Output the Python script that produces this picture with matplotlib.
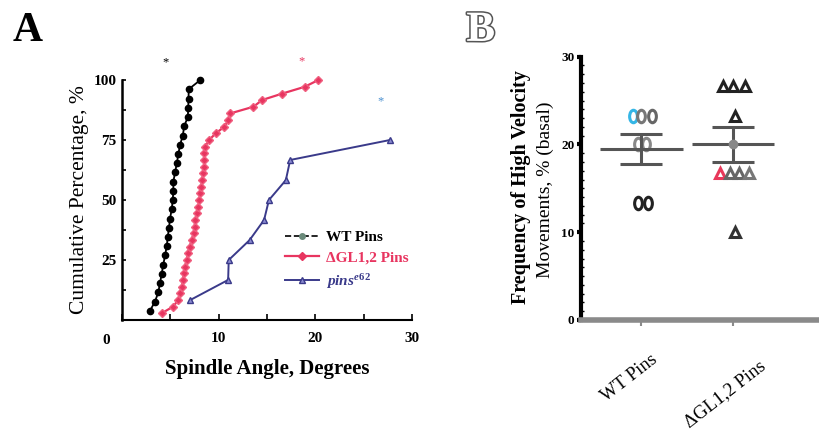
import matplotlib.pyplot as plt
import matplotlib.patheffects as pe
import matplotlib.transforms as mtransforms
from matplotlib.lines import Line2D
from matplotlib.path import Path
from matplotlib.ticker import MultipleLocator
import numpy as np

plt.rcParams['font.family'] = ['Liberation Serif', 'DejaVu Serif']
plt.rcParams['mathtext.fontset'] = 'custom'
plt.rcParams['mathtext.it'] = 'Liberation Serif:italic:bold'
plt.rcParams['mathtext.rm'] = 'Liberation Serif:bold'

# panel A: cumulative distribution of spindle angles
wt_angle = [2.89, 3.41, 3.75, 3.93, 4.1, 4.27, 4.45, 4.63, 4.73, 4.86, 4.97, 5.14, 5.25,
            5.31, 5.31, 5.49, 5.67, 5.83, 6.01, 6.29, 6.43, 6.81, 6.85, 6.88, 6.9, 8.09]
wt_cum = [3.8, 7.7, 11.5, 15.4, 19.2, 23.1, 26.9, 30.8, 34.6, 38.5, 42.3, 46.2, 50.0,
          53.8, 57.7, 61.5, 65.4, 69.2, 73.1, 76.9, 80.8, 84.6, 88.5, 92.3, 96.2, 100.0]

gl_angle = [4.1, 5.3, 5.8, 6.0, 6.2, 6.3, 6.4, 6.5, 6.7, 6.8, 7.0, 7.2, 7.4, 7.5, 7.6, 7.8,
            7.9, 8.0, 8.1, 8.2, 8.3, 8.4, 8.5, 8.5, 8.5, 8.6, 9.0, 9.7, 10.6, 11.0, 11.2,
            13.6, 14.5, 16.6, 18.9, 20.3]
gl_cum = [2.8, 5.6, 8.3, 11.1, 13.9, 16.7, 19.4, 22.2, 25.0, 27.8, 30.6, 33.3, 36.1, 38.9,
          41.7, 44.4, 47.2, 50.0, 52.8, 55.6, 58.3, 61.1, 63.9, 66.7, 69.4, 72.2, 75.0,
          77.8, 80.6, 83.3, 86.1, 88.9, 91.7, 94.4, 97.2, 100.0]

pins_angle = [7.05, 10.98, 11.04, 13.2, 14.7, 15.2, 16.95, 17.4, 27.7]
pins_cum = [8.3, 16.7, 25.0, 33.3, 41.7, 50.0, 58.3, 66.7, 75.0]

star_x = [4.45, 18.6, 26.7]
star_y = [107.6, 108.0, 91.0]

# panel B: frequency of high velocity movements
groups = ['WT Pins', '\u0394GL1,2 Pins']
wt_freq = [23.3, 23.3, 23.3, 20.0, 20.0, 13.3, 13.3]
wt_jit = [-0.09, 0.0, 0.11, -0.04, 0.05, -0.04, 0.07]
wt_col = ['#35b6e6', '#777777', '#666666', '#888888', '#888888', '#222222', '#222222']
gl_freq = [26.7, 26.7, 26.7, 23.3, 16.7, 16.7, 16.7, 16.7, 10.0]
gl_jit = [-0.11, 0.0, 0.13, 0.02, -0.14, -0.03, 0.07, 0.18, 0.02]
gl_col = ['#222222', '#222222', '#222222', '#222222', '#e8385a', '#666666', '#666666',
          '#777777', '#333333']

red = '#e83560'
navy = '#3a3a8a'

fig = plt.figure(figsize=(8.19, 4.41), dpi=100)

# ---------- panel A ----------
ax = fig.add_axes([0.149, 0.2744, 0.354, 0.544])
ax.plot(wt_angle, wt_cum, '-o', color='black', ms=4.5, lw=1.3, clip_on=False, zorder=4)
ax.plot(gl_angle, gl_cum, '-D', color=red, mfc=red, mec='#f06080', ms=4.5, lw=1.6,
        clip_on=False, zorder=3)
ax.plot(pins_angle, pins_cum, '-^', color=navy, mfc='#8a8ad0', mec=navy, ms=5, lw=1.4,
        clip_on=False, zorder=2)
for sx, sy, c in zip(star_x, star_y, ['black', red, '#4a90d0']):
    ax.text(sx, sy, '*', color=c, fontsize=9, ha='center', va='center', clip_on=False)

ax.set_xlim(0, 30)
ax.set_ylim(0, 100)
ax.spines['top'].set_visible(False)
ax.spines['right'].set_visible(False)
ax.spines['left'].set_linewidth(1.8)
ax.spines['bottom'].set_linewidth(1.5)
ax.set_xticks([0, 10, 20, 30])
ax.set_xticklabels(['', '10', '20', '30'])
ax.xaxis.set_minor_locator(MultipleLocator(5))
ax.set_yticks([25, 50, 75, 100])
ax.yaxis.set_minor_locator(MultipleLocator(12.5))
ax.tick_params(axis='x', which='both', direction='in', length=4, width=1.2, pad=9,
               labelsize=11)
ax.tick_params(axis='y', which='both', direction='in', length=3, width=1.2, pad=4,
               labelsize=11)
for lab in ax.get_xticklabels() + ax.get_yticklabels():
    lab.set_fontweight('bold')
ax.text(-1.6, -5.9, '0', fontsize=11, fontweight='bold', ha='center', va='top')
ax.set_xlabel('Spindle Angle, Degrees', fontsize=15, fontweight='bold', labelpad=10)
ax.set_ylabel('Cumulative Percentage, %', fontsize=15.5, labelpad=3)

handles = [
    Line2D([], [], color='black', ls='--', lw=1.2, marker='o', ms=4, mfc='#6a8a7a', mec='#6a8a7a'),
    Line2D([], [], color=red, lw=1.6, marker='D', ms=4.5, mfc=red, mec=red),
    Line2D([], [], color=navy, lw=1.4, marker='^', ms=4.5, mfc='#8a8ad0', mec=navy),
]
leg = ax.legend(handles, ['WT Pins', '\u0394GL1,2 Pins', r'$\mathit{pins}^{\mathit{e62}}$'],
                loc='upper left', bbox_to_anchor=(0.515, 0.43), frameon=False,
                handlelength=2.2, handletextpad=0.5, labelspacing=0.45,
                prop={'size': 11, 'weight': 'bold'})
for txt, c in zip(leg.get_texts(), ['black', red, navy]):
    txt.set_color(c)

fig.text(0.034, 0.93, 'A', fontsize=30, fontweight='bold', ha='center', va='center')

# ---------- panel B ----------
bx = fig.add_axes([0.710, 0.2744, 0.290, 0.597])
ell = Path.unit_circle()
ell = Path(ell.vertices * np.array([0.62, 1.0]), ell.codes)

for xj, v, c in zip(wt_jit, wt_freq, wt_col):
    bx.plot(0 + xj, v, marker=ell, ms=9, mfc='none', mec=c, mew=2.2, ls='none', zorder=3)
for xj, v, c in zip(gl_jit, gl_freq, gl_col):
    bx.plot(1 + xj, v, marker='^', ms=7, mfc='none', mec=c, mew=2.2, ls='none', zorder=3)

for i, vals in enumerate([wt_freq, gl_freq]):
    m = np.mean(vals)
    sem = np.std(vals, ddof=1) / np.sqrt(len(vals))
    bx.hlines(m, i - 0.45, i + 0.45, color='#555555', lw=2.2, zorder=4)
    bx.hlines([m - sem, m + sem], i - 0.23, i + 0.23, color='#555555', lw=2.2, zorder=4)
    bx.vlines(i, m - sem, m + sem, color='#555555', lw=2.2, zorder=4)
bx.plot(1, np.mean(gl_freq), 'o', ms=6, color='#888888', zorder=5)

bx.set_xlim(-0.655, 1.94)
bx.set_ylim(0, 30)
bx.spines['top'].set_visible(False)
bx.spines['right'].set_visible(False)
bx.spines['left'].set_linewidth(3)
bx.spines['bottom'].set_linewidth(4)
bx.spines['bottom'].set_color('#8a8a8a')
bx.set_yticks([0, 10, 20, 30])
bx.yaxis.set_minor_locator(MultipleLocator(1))
bx.tick_params(axis='y', which='major', direction='out', length=3, width=3, pad=2,
               labelsize=9.5)
bx.tick_params(axis='y', which='minor', direction='in', length=2, width=1)
bx.set_xticks([0, 1])
bx.set_xticklabels([])
bx.tick_params(axis='x', direction='out', length=4, width=1.5, color='#8a8a8a')
for lab in bx.get_yticklabels():
    lab.set_fontweight('bold')

# rotated category labels sit below and slightly left of their ticks
xform = mtransforms.blended_transform_factory(bx.transData, bx.transAxes)
for i, (name, dx, dy) in enumerate(zip(groups, [-0.13, -0.09], [-0.22, -0.28])):
    bx.text(i + dx, dy, name, transform=xform, rotation=38, fontsize=13.5,
            ha='center', va='center', clip_on=False)

fig.text(0.636, 0.575, 'Frequency of High Velocity', rotation=90, fontsize=14.5,
         fontweight='bold', ha='center', va='center')
fig.text(0.666, 0.57, 'Movements, % (basal)', rotation=90, fontsize=14,
         ha='center', va='center')

fig.text(0.587, 0.93, 'B', fontsize=31, fontweight='bold', ha='center', va='center',
         color='white', path_effects=[pe.withStroke(linewidth=2.2, foreground='#555555')])

fig.savefig('out.png', dpi=100)
